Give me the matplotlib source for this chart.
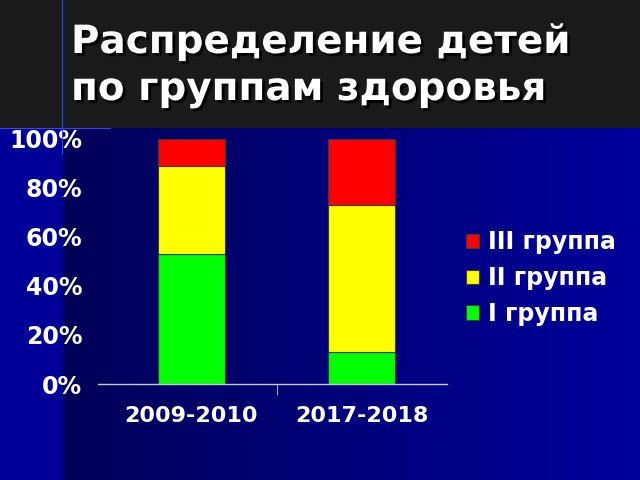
import numpy as np
import matplotlib
matplotlib.use('Agg')
import matplotlib.pyplot as plt
import matplotlib.patheffects as pe
from matplotlib.patches import Rectangle
from matplotlib.colors import LinearSegmentedColormap

# data (percent of children)
categories = ['2009-2010', '2017-2018']
group_1 = [53, 13]
group_2 = [36, 60]
group_3 = [11, 27]
series_labels = ['I группа', 'II группа', 'III группа']
series_colors = ['#00ff00', '#ffff00', '#ff0000']
y_ticks = [0, 20, 40, 60, 80, 100]
title_lines = ['Распределение детей', 'по группам здоровья']

W, H = 640, 480
fig = plt.figure(figsize=(6.4, 4.8), dpi=100)
fig.patch.set_facecolor('#1a1a1a')

# blue gradient background below the title bar
bar_bottom = 128
bg = fig.add_axes([0, 0, 1, (H - bar_bottom) / H])
bg.set_axis_off()
grad = np.linspace(0, 1, 256).reshape(1, -1)
cmap = LinearSegmentedColormap.from_list('bg', ['#000058', '#00009c'])
bg.imshow(grad, aspect='auto', cmap=cmap, extent=[62, W, 0, 1])
bg.add_patch(Rectangle((0, 0), 62, 1, color='#000099'))
bg.set_xlim(0, W)
bg.set_ylim(0, 1)

# thin decorative lines at the corner of the title bar
fig.add_artist(plt.Line2D([62 / W, 62 / W], [1, 0.68], color='#2a48ff', lw=0.8))
fig.add_artist(plt.Line2D([0, 110 / W], [1 - bar_bottom / H] * 2, color='#2a48ff', lw=0.8))

ax = fig.add_axes([97.7 / W, 96 / H, 349 / W, 245.3 / H])
ax.patch.set_alpha(0)

x = np.arange(len(categories))
values = [np.array(group_1), np.array(group_2), np.array(group_3)]
bottom = np.zeros(len(categories))
handles = []
for vals, lab, col in zip(values, series_labels, series_colors):
    b = ax.bar(x, vals / 100, 0.393, bottom=bottom, color=col,
               edgecolor='#3a3a3a', linewidth=0.8, label=lab)
    handles.append(b)
    bottom += vals / 100

ax.set_xlim(-0.55, 1.497)
ax.set_ylim(0, 1)
for s in ['top', 'right', 'left']:
    ax.spines[s].set_visible(False)
ax.spines['bottom'].set_color('#c8c8e8')
ax.spines['bottom'].set_linewidth(1.0)

ax.set_xticks(x)
ax.set_xticklabels(categories)
ax.set_xticks([0.5], minor=True)
ax.tick_params(axis='x', which='major', length=0, pad=16, labelsize=16,
               labelcolor='white')
ax.tick_params(axis='x', which='minor', length=8, color='#c8c8e8', direction='out')
ax.set_yticks([t / 100 for t in y_ticks])
ax.set_yticklabels([f'{t}%' for t in y_ticks])
ax.tick_params(axis='y', length=0, pad=11, labelsize=17, labelcolor='white')
for lbl in ax.get_xticklabels() + ax.get_yticklabels():
    lbl.set_fontweight('bold')

leg = ax.legend(handles[::-1], series_labels[::-1], loc='center left',
                bbox_to_anchor=(445 / W, 1 - 278 / H), bbox_transform=fig.transFigure,
                frameon=False, handlelength=0.55, handleheight=0.55, handletextpad=0.35,
                labelspacing=0.5, prop={'size': 17, 'weight': 'bold'})
for t in leg.get_texts():
    t.set_color('white')

shadow = [pe.withSimplePatchShadow(offset=(2, -2), shadow_rgbFace='black', alpha=0.9)]
for line, base in zip(title_lines, [53, 100]):
    fig.text(71 / W, 1 - base / H, line, color='white', fontsize=28,
             fontweight='bold', va='baseline', ha='left', path_effects=shadow)

fig.savefig('out.png', dpi=100, facecolor=fig.get_facecolor())
